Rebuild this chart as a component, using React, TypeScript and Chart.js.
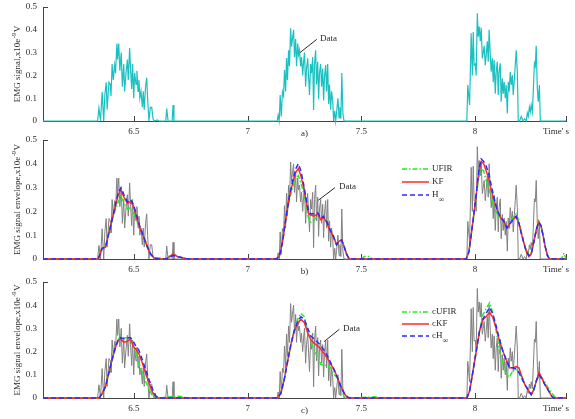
import React, { useEffect, useRef } from 'react';
import { Chart, registerables } from 'chart.js';
Chart.register(...registerables);

// ---------- axes ----------
const X_MIN = 6.1;
const X_MAX = 8.4;
const xTickValues = [6.5, 7, 7.5, 8];
const xTickLabels = ['6.5', '7', '7.5', '8'];
const yTickValues = [0, 0.1, 0.2, 0.3, 0.4, 0.5];
const yTickLabels = ['0', '0.1', '0.2', '0.3', '0.4', '0.5'];

// ---------- raw EMG data (x10e-9 V) ----------
const dataTime = [
  6.100, 6.340, 6.346, 6.353, 6.360, 6.367, 6.372, 6.378, 6.382, 6.390, 6.396, 6.399, 6.404, 6.409, 6.415, 6.419,
  6.425, 6.428, 6.433, 6.438, 6.444, 6.449, 6.455, 6.459, 6.465, 6.471, 6.475, 6.481, 6.485, 6.490, 6.494, 6.499,
  6.503, 6.509, 6.513, 6.518, 6.522, 6.526, 6.531, 6.537, 6.541, 6.545, 6.551, 6.556, 6.560, 6.566, 6.572, 6.578,
  6.584, 6.589, 6.603, 6.610, 6.640, 6.644, 6.650, 6.668, 6.672, 6.676,
  7.126, 7.130, 7.134, 7.139, 7.143, 7.148, 7.153, 7.158, 7.162, 7.167, 7.171, 7.175, 7.180, 7.184, 7.189, 7.193,
  7.197, 7.202, 7.206, 7.211, 7.215, 7.220, 7.224, 7.228, 7.233, 7.237, 7.242, 7.246, 7.250, 7.255, 7.259, 7.264,
  7.268, 7.272, 7.277, 7.281, 7.286, 7.290, 7.294, 7.299, 7.303, 7.308, 7.312, 7.316, 7.321, 7.325, 7.330, 7.334,
  7.338, 7.343, 7.347, 7.352, 7.356, 7.360, 7.365, 7.369, 7.374, 7.378, 7.383, 7.387, 7.391, 7.397, 7.402, 7.406,
  7.410, 7.414, 7.419, 7.424,
  7.964, 7.968, 7.976, 7.983, 7.988, 7.992, 7.996, 8.001, 8.005, 8.010, 8.014, 8.018, 8.023, 8.027, 8.032, 8.036,
  8.040, 8.045, 8.049, 8.054, 8.058, 8.062, 8.067, 8.071, 8.076, 8.080, 8.084, 8.089, 8.093, 8.098, 8.102, 8.106,
  8.111, 8.115, 8.120, 8.124, 8.128, 8.133, 8.137, 8.142, 8.146, 8.150, 8.155, 8.159, 8.164, 8.168, 8.173, 8.177,
  8.181, 8.186, 8.190, 8.196, 8.203, 8.211, 8.218, 8.225, 8.230, 8.234, 8.239, 8.243, 8.247, 8.252, 8.256, 8.261,
  8.265, 8.269, 8.274, 8.278, 8.283, 8.287, 8.400,
];
const dataValue = [
  0, 0, 0.057, 0, 0.127, 0, 0.114, 0.17, 0.05, 0.17, 0.16, 0.11, 0.25, 0.18, 0.245, 0.21,
  0.34, 0.27, 0.34, 0.22, 0.30, 0.15, 0.25, 0.13, 0.21, 0.27, 0.18, 0.32, 0.23, 0.14, 0.25, 0.10,
  0.21, 0.16, 0.22, 0.13, 0.18, 0.10, 0.13, 0.06, 0.13, 0.05, 0.15, 0.19, 0.10, 0, 0.06, 0.06,
  0.01, 0, 0.005, 0, 0, 0.055, 0, 0, 0.07, 0,
  0, 0, 0.026, 0, 0.114, 0.02, 0.128, 0.11, 0.224, 0.13, 0.276, 0.18, 0.31, 0.24, 0.407, 0.326,
  0.36, 0.40, 0.28, 0.36, 0.24, 0.34, 0.29, 0.31, 0.24, 0.28, 0.20, 0.26, 0.30, 0.15, 0.23, 0.275,
  0.195, 0.114, 0.25, 0.21, 0.28, 0.048, 0.25, 0.31, 0.16, 0.26, 0.095, 0.21, 0.25, 0.15, 0.23, 0.09,
  0.195, 0.245, 0.13, 0.25, 0.075, 0.16, 0.05, 0.13, 0.09, 0, 0.045, 0, 0.035, 0.10, 0.015, 0.06,
  0.01, 0.21, 0.03, 0,
  0, 0.158, 0.07, 0.385, 0.20, 0.39, 0.245, 0.25, 0.20, 0.472, 0.37, 0.414, 0.35, 0.41, 0.275, 0.30,
  0.33, 0.245, 0.29, 0.35, 0.26, 0.40, 0.29, 0.216, 0.275, 0.17, 0.268, 0.12, 0.216, 0.26, 0.114, 0.216,
  0.253, 0.085, 0.187, 0.12, 0.172, 0.10, 0.158, 0.033, 0.172, 0.128, 0.216, 0.158, 0.20, 0.114, 0.187, 0.245,
  0.31, 0.216, 0, 0, 0.02, 0, 0.01, 0, 0.035, 0.02, 0.06, 0.04, 0.07, 0.04, 0.128, 0.253,
  0.24, 0.33, 0.14, 0.085, 0.158, 0, 0,
];

// ---------- panel b envelopes ----------
const envBTime = [
  6.100, 6.343, 6.360, 6.375, 6.390, 6.405, 6.419, 6.431, 6.443, 6.456, 6.471, 6.485, 6.497, 6.510, 6.525, 6.540,
  6.559, 6.574, 6.588, 6.603, 6.640, 6.654, 6.672, 6.691, 6.728, 6.750,
  7.124, 7.139, 7.153, 7.168, 7.183, 7.198, 7.212, 7.223, 7.234, 7.245, 7.256, 7.268, 7.278, 7.293, 7.308, 7.322,
  7.333, 7.347, 7.362, 7.377, 7.391, 7.403, 7.413, 7.425, 7.435, 7.447, 7.500, 7.513, 7.535, 7.550,
  7.961, 7.973, 7.983, 7.995, 8.005, 8.016, 8.027, 8.038, 8.049, 8.060, 8.071, 8.083, 8.096, 8.111, 8.126, 8.140,
  8.155, 8.170, 8.181, 8.193, 8.203, 8.214, 8.226, 8.237, 8.247, 8.258, 8.270, 8.280, 8.290, 8.299, 8.309, 8.318,
  8.328, 8.380, 8.391, 8.400,
];
const envBUFIR = [
  0, 0, 0.045, 0.05, 0.11, 0.165, 0.21, 0.24, 0.265, 0.235, 0.21, 0.215, 0.20, 0.165, 0.13, 0.105,
  0.05, 0.02, 0.005, 0.005, 0, 0.01, 0.025, 0.01, 0.002, 0,
  0, 0.01, 0.07, 0.17, 0.25, 0.30, 0.34, 0.35, 0.32, 0.28, 0.23, 0.17, 0.155, 0.165, 0.18, 0.17,
  0.175, 0.16, 0.12, 0.095, 0.06, 0.075, 0.08, 0.05, 0.02, 0, 0, 0.01, 0.01, 0,
  0, 0.03, 0.10, 0.19, 0.26, 0.34, 0.38, 0.37, 0.33, 0.30, 0.26, 0.22, 0.19, 0.17, 0.16, 0.13,
  0.155, 0.18, 0.19, 0.16, 0.115, 0.07, 0.03, 0.02, 0.025, 0.07, 0.125, 0.16, 0.14, 0.10, 0.05, 0.02,
  0, 0, 0.025, 0,
];
const envBKF = [
  0, 0, 0.045, 0.05, 0.11, 0.17, 0.225, 0.27, 0.29, 0.26, 0.235, 0.24, 0.225, 0.18, 0.135, 0.10,
  0.05, 0.02, 0.005, 0, 0, 0.008, 0.02, 0.01, 0.002, 0,
  0, 0.01, 0.07, 0.17, 0.26, 0.32, 0.365, 0.38, 0.35, 0.305, 0.25, 0.19, 0.185, 0.18, 0.19, 0.165,
  0.175, 0.155, 0.12, 0.095, 0.06, 0.075, 0.08, 0.05, 0.02, 0, 0, 0, 0, 0,
  0, 0.03, 0.10, 0.19, 0.27, 0.36, 0.41, 0.40, 0.37, 0.34, 0.29, 0.25, 0.21, 0.175, 0.16, 0.13,
  0.15, 0.17, 0.175, 0.15, 0.11, 0.07, 0.03, 0.01, 0.02, 0.07, 0.125, 0.155, 0.14, 0.10, 0.05, 0.015,
  0, 0, 0, 0,
];
const envBH = [
  0, 0, 0.045, 0.05, 0.11, 0.17, 0.23, 0.28, 0.30, 0.27, 0.24, 0.25, 0.23, 0.19, 0.14, 0.10,
  0.05, 0.02, 0.005, 0, 0, 0.005, 0.015, 0.01, 0.002, 0,
  0, 0.01, 0.07, 0.17, 0.26, 0.33, 0.38, 0.40, 0.37, 0.32, 0.26, 0.20, 0.19, 0.19, 0.195, 0.17,
  0.18, 0.16, 0.125, 0.095, 0.06, 0.075, 0.08, 0.05, 0.02, 0, 0, 0, 0, 0,
  0, 0.03, 0.10, 0.19, 0.27, 0.37, 0.42, 0.41, 0.39, 0.36, 0.31, 0.26, 0.21, 0.175, 0.16, 0.13,
  0.15, 0.17, 0.18, 0.15, 0.11, 0.07, 0.03, 0.015, 0.02, 0.07, 0.125, 0.155, 0.14, 0.10, 0.05, 0.015,
  0, 0, 0, 0,
];

// ---------- panel c envelopes ----------
const envCTime = [
  6.100, 6.346, 6.361, 6.375, 6.390, 6.405, 6.419, 6.431, 6.441, 6.456, 6.471, 6.485, 6.496, 6.508, 6.522, 6.537,
  6.552, 6.566, 6.581, 6.596, 6.607, 6.660, 6.700, 6.740,
  7.131, 7.146, 7.161, 7.176, 7.190, 7.205, 7.220, 7.234, 7.249, 7.264, 7.279, 7.293, 7.308, 7.322, 7.337, 7.352,
  7.366, 7.381, 7.396, 7.410, 7.425, 7.440, 7.450, 7.565, 7.580,
  7.964, 7.976, 7.990, 8.005, 8.020, 8.035, 8.049, 8.064, 8.079, 8.093, 8.108, 8.123, 8.137, 8.152, 8.167, 8.181,
  8.193, 8.203, 8.218, 8.233, 8.247, 8.258, 8.270, 8.281, 8.292, 8.306, 8.321, 8.336, 8.346, 8.358, 8.400,
];
const envCUFIR = [
  0, 0, 0.02, 0.05, 0.11, 0.17, 0.22, 0.25, 0.27, 0.26, 0.26, 0.255, 0.235, 0.195, 0.15, 0.11,
  0.07, 0.04, 0.01, 0, 0, 0.005, 0.008, 0,
  0, 0.02, 0.08, 0.16, 0.23, 0.29, 0.34, 0.365, 0.35, 0.29, 0.24, 0.205, 0.175, 0.145, 0.14, 0.14,
  0.13, 0.10, 0.085, 0.045, 0.005, 0, 0, 0.005, 0,
  0, 0.03, 0.11, 0.20, 0.29, 0.36, 0.385, 0.41, 0.365, 0.29, 0.20, 0.15, 0.10, 0.09, 0.12, 0.125,
  0.11, 0.09, 0.06, 0.035, 0.015, 0.035, 0.075, 0.10, 0.09, 0.07, 0.045, 0.025, 0.01, 0, 0,
];
const envCKF = [
  0, 0, 0.02, 0.05, 0.11, 0.17, 0.22, 0.25, 0.255, 0.24, 0.245, 0.255, 0.225, 0.21, 0.19, 0.15,
  0.105, 0.065, 0.025, 0.005, 0, 0, 0, 0,
  0, 0.02, 0.08, 0.16, 0.23, 0.29, 0.32, 0.34, 0.325, 0.28, 0.25, 0.235, 0.225, 0.21, 0.19, 0.17,
  0.145, 0.12, 0.085, 0.05, 0.02, 0, 0, 0, 0,
  0, 0.03, 0.11, 0.20, 0.29, 0.34, 0.35, 0.37, 0.345, 0.30, 0.245, 0.20, 0.165, 0.13, 0.13, 0.135,
  0.13, 0.10, 0.06, 0.035, 0.015, 0.035, 0.075, 0.11, 0.09, 0.06, 0.035, 0.01, 0, 0, 0,
];
const envCH = [
  0, 0, 0.02, 0.05, 0.11, 0.17, 0.22, 0.25, 0.26, 0.255, 0.26, 0.26, 0.245, 0.225, 0.205, 0.165,
  0.12, 0.08, 0.04, 0.01, 0, 0, 0, 0,
  0, 0.02, 0.08, 0.16, 0.23, 0.29, 0.33, 0.35, 0.34, 0.30, 0.265, 0.255, 0.24, 0.225, 0.205, 0.18,
  0.15, 0.12, 0.085, 0.05, 0.02, 0.005, 0, 0, 0,
  0, 0.03, 0.11, 0.20, 0.29, 0.34, 0.365, 0.39, 0.36, 0.31, 0.25, 0.20, 0.165, 0.13, 0.13, 0.125,
  0.11, 0.09, 0.06, 0.035, 0.015, 0.035, 0.075, 0.10, 0.085, 0.06, 0.035, 0.01, 0, 0, 0,
];

// ---------- labels ----------
const legendBLabels = ['UFIR', 'KF', 'H∞'];
const legendCLabels = ['cUFIR', 'cKF', 'cH∞'];
const subplotLabels = ['a)', 'b)', 'c)'];
const yLabelA = 'EMG signal,x10e';
const yLabelBC = 'EMG signal envelope,x10e';
const noteText = 'Data';
// annotation anchor points in data units: [text x, text y, line start x, y, line end x, y]
const noteA = [7.318, 0.36, 7.304, 0.358, 7.230, 0.30];
const noteB = [7.402, 0.305, 7.384, 0.30, 7.311, 0.247];
const noteC = [7.419, 0.30, 7.403, 0.296, 7.336, 0.243];

// ---------- style ----------
const FONT = "'Liberation Serif', 'Times New Roman', serif";
const TEXT = '#2a2a2a';
const AXIS = '#444';
const TEAL = '#1cc0c0';
const GRAY = '#808080';
const GREEN = '#22ee22';
const RED = '#ff2a2a';
const BLUE = '#2a2aff';
const DASH_DOT = [5, 2, 1.5, 2];
const DASH = [5, 3];
const AREA_LEFT = 43;
const AREA_RIGHT = 566;

const pts = (t: number[], v: number[]) => t.map((x, i) => ({ x, y: v[i] }));

type Panel = {
  top: number;
  height: number;
  areaTop: number;
  areaBottom: number;
  datasets: any[];
  yLabel: string;
  sub: string;
  legend?: { label: string; color: string; dash: number[] }[];
  legendY?: number[];
  note: number[];
};

function decoPlugin(p: Panel, key: string) {
  return {
    id: 'deco' + key,
    beforeDatasetsDraw(chart: any) {
      const ctx = chart.ctx;
      const { left, top, bottom } = chart.chartArea;
      const xs = chart.scales.x;
      ctx.save();
      ctx.strokeStyle = AXIS;
      ctx.lineWidth = 1;
      for (const v of [...xTickValues, X_MAX]) {
        const x = Math.round(xs.getPixelForValue(v)) + 0.5;
        ctx.beginPath();
        ctx.moveTo(x, bottom);
        ctx.lineTo(x, bottom - 5);
        ctx.stroke();
      }
      const ty = Math.round(top) + 0.5;
      ctx.beginPath();
      ctx.moveTo(left, ty);
      ctx.lineTo(left + 5, ty);
      ctx.stroke();
      ctx.restore();
    },
    afterDraw(chart: any) {
      const ctx = chart.ctx;
      const { left, right, top, bottom } = chart.chartArea;
      const xs = chart.scales.x;
      const ys = chart.scales.y;
      ctx.save();
      ctx.fillStyle = TEXT;
      ctx.textBaseline = 'middle';
      // x axis name
      ctx.font = `9px ${FONT}`;
      ctx.textAlign = 'center';
      ctx.fillText("Time' s", 556, bottom + 10.5);
      // subplot label
      ctx.fillText(p.sub, (left + right) / 2, bottom + 12.5);
      // rotated y label with superscript
      ctx.save();
      ctx.translate(18, (top + bottom) / 2);
      ctx.rotate(-Math.PI / 2);
      ctx.textAlign = 'left';
      ctx.font = `9px ${FONT}`;
      const w1 = ctx.measureText(p.yLabel).width;
      const wV = ctx.measureText('V').width;
      ctx.font = `6.5px ${FONT}`;
      const w2 = ctx.measureText('-9').width;
      const total = w1 + w2 + wV + 1;
      let x0 = -total / 2;
      ctx.font = `9px ${FONT}`;
      ctx.fillText(p.yLabel, x0, 0);
      x0 += w1 + 0.5;
      ctx.font = `6.5px ${FONT}`;
      ctx.fillText('-9', x0, -4);
      x0 += w2 + 0.5;
      ctx.font = `9px ${FONT}`;
      ctx.fillText('V', x0, 0);
      ctx.restore();
      // legend
      if (p.legend && p.legendY) {
        p.legend.forEach((it, i) => {
          const y = top + p.legendY![i];
          ctx.save();
          ctx.strokeStyle = it.color;
          ctx.lineWidth = 1.5;
          ctx.setLineDash(it.dash);
          ctx.beginPath();
          ctx.moveTo(402, y);
          ctx.lineTo(429, y);
          ctx.stroke();
          ctx.restore();
          ctx.textAlign = 'left';
          ctx.font = `9px ${FONT}`;
          if (it.label.endsWith('∞')) {
            const main = it.label.slice(0, -1);
            ctx.fillText(main, 432, y);
            const w = ctx.measureText(main).width;
            ctx.font = `8px ${FONT}`;
            ctx.fillText('∞', 432 + w, y + 4.5);
          } else {
            ctx.fillText(it.label, 432, y);
          }
        });
      }
      // "Data" note
      const n = p.note;
      ctx.strokeStyle = '#111';
      ctx.lineWidth = 0.9;
      ctx.beginPath();
      ctx.moveTo(xs.getPixelForValue(n[2]), ys.getPixelForValue(n[3]));
      ctx.lineTo(xs.getPixelForValue(n[4]), ys.getPixelForValue(n[5]));
      ctx.stroke();
      ctx.font = `9px ${FONT}`;
      ctx.textAlign = 'left';
      ctx.fillText(noteText, xs.getPixelForValue(n[0]), ys.getPixelForValue(n[1]));
      ctx.restore();
    },
  };
}

function buildChart(canvas: HTMLCanvasElement, p: Panel, key: string) {
  const padTop = p.areaTop - p.top;
  const xAxisH = p.top + p.height - p.areaBottom;
  return new Chart(canvas, {
    type: 'line',
    data: { datasets: p.datasets },
    options: {
      responsive: false,
      animation: false,
      devicePixelRatio: 1,
      events: [],
      layout: { padding: { top: padTop, right: 575 - AREA_RIGHT, bottom: 0, left: 0 } },
      plugins: { legend: { display: false }, tooltip: { enabled: false } },
      elements: { point: { radius: 0 }, line: { tension: 0 } },
      scales: {
        x: {
          type: 'linear',
          min: X_MIN,
          max: X_MAX,
          grid: { display: false, drawTicks: false },
          border: { display: true, color: AXIS, width: 1 },
          ticks: {
            font: { family: FONT, size: 9 },
            color: TEXT,
            padding: 5,
            maxRotation: 0,
            autoSkip: false,
            callback: (_v: any, i: number) => xTickLabels[i],
          },
          afterBuildTicks: (s: any) => {
            s.ticks = xTickValues.map((v) => ({ value: v }));
          },
          afterFit: (s: any) => {
            s.height = xAxisH;
          },
        },
        y: {
          type: 'linear',
          min: 0,
          max: 0.5,
          grid: { display: false, drawTicks: false },
          border: { display: true, color: AXIS, width: 1 },
          ticks: {
            font: { family: FONT, size: 9 },
            color: TEXT,
            padding: 6,
            callback: (_v: any, i: number) => yTickLabels[i],
          },
          afterBuildTicks: (s: any) => {
            s.ticks = yTickValues.map((v) => ({ value: v }));
          },
          afterFit: (s: any) => {
            s.width = AREA_LEFT;
          },
        },
      },
    } as any,
    plugins: [decoPlugin(p, key)],
  });
}

const lineDs = (data: any, color: string, width: number, dash: number[]) => ({
  data,
  borderColor: color,
  borderWidth: width,
  borderDash: dash,
  pointRadius: 0,
  fill: false,
  clip: false,
});

const panelA: Panel = {
  top: -6,
  height: 151,
  areaTop: 7,
  areaBottom: 121,
  datasets: [lineDs(pts(dataTime, dataValue), TEAL, 1.2, [])],
  yLabel: yLabelA,
  sub: subplotLabels[0],
  note: noteA,
};

const panelB: Panel = {
  top: 126,
  height: 154,
  areaTop: 140,
  areaBottom: 259,
  datasets: [
    lineDs(pts(envBTime, envBH), BLUE, 1.5, DASH),
    lineDs(pts(envBTime, envBKF), RED, 1.5, []),
    lineDs(pts(envBTime, envBUFIR), GREEN, 1.5, DASH_DOT),
    lineDs(pts(dataTime, dataValue), GRAY, 1, []),
  ],
  yLabel: yLabelBC,
  sub: subplotLabels[1],
  legend: [
    { label: legendBLabels[0], color: GREEN, dash: DASH_DOT },
    { label: legendBLabels[1], color: RED, dash: [] },
    { label: legendBLabels[2], color: BLUE, dash: DASH },
  ],
  legendY: [29, 42, 55],
  note: noteB,
};

const panelC: Panel = {
  top: 268,
  height: 151,
  areaTop: 282,
  areaBottom: 398,
  datasets: [
    lineDs(pts(envCTime, envCH), BLUE, 1.5, DASH),
    lineDs(pts(envCTime, envCKF), RED, 1.5, []),
    lineDs(pts(envCTime, envCUFIR), GREEN, 1.5, DASH_DOT),
    lineDs(pts(dataTime, dataValue), GRAY, 1, []),
  ],
  yLabel: yLabelBC,
  sub: subplotLabels[2],
  legend: [
    { label: legendCLabels[0], color: GREEN, dash: DASH_DOT },
    { label: legendCLabels[1], color: RED, dash: [] },
    { label: legendCLabels[2], color: BLUE, dash: DASH },
  ],
  legendY: [30, 42, 54],
  note: noteC,
};

const panels = [panelA, panelB, panelC];

export default function App() {
  const refs = [useRef<HTMLCanvasElement>(null), useRef<HTMLCanvasElement>(null), useRef<HTMLCanvasElement>(null)];
  useEffect(() => {
    const charts = panels.map((p, i) => buildChart(refs[i].current as HTMLCanvasElement, p, String(i)));
    return () => charts.forEach((c) => c.destroy());
  }, []);
  return (
    <div style={{ position: 'fixed', left: 0, top: 0, width: 575, height: 419, background: '#fff', overflow: 'hidden' }}>
      {panels.map((p, i) => (
        <canvas
          key={i}
          ref={refs[i]}
          width={575}
          height={p.height}
          style={{ position: 'absolute', left: 0, top: p.top, width: 575, height: p.height }}
        />
      ))}
    </div>
  );
}
